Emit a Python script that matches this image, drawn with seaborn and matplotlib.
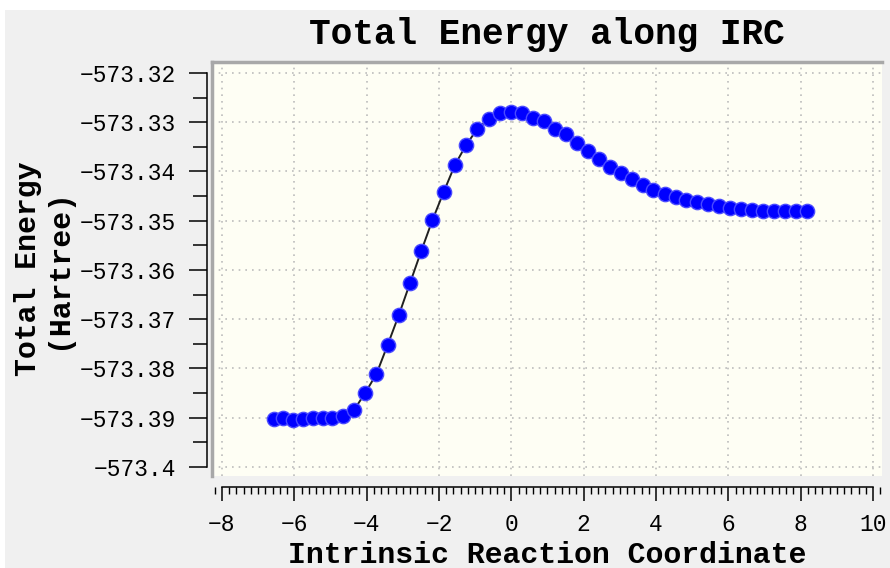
import pandas as pd
import numpy as np
import matplotlib
matplotlib.use("Agg")
import matplotlib.pyplot as plt
import seaborn as sns
from matplotlib.ticker import MultipleLocator
from matplotlib.patches import Rectangle

plt.rcParams['font.family'] = ['Liberation Mono', 'DejaVu Sans']

# IRC points
irc_coord = [-6.57, -6.30, -6.03, -5.76, -5.49, -5.22, -4.95, -4.66, -4.35, -4.04,
             -3.73, -3.42, -3.11, -2.80, -2.49, -2.18, -1.87, -1.56, -1.25, -0.94,
             -0.63, -0.31, 0.00, 0.30, 0.61, 0.91, 1.21, 1.51, 1.82, 2.12,
             2.42, 2.72, 3.03, 3.33, 3.63, 3.93, 4.24, 4.54, 4.84, 5.14,
             5.45, 5.75, 6.05, 6.35, 6.66, 6.96, 7.26, 7.56, 7.87, 8.17]
energy = [-573.39025, -573.39005, -573.39046, -573.39025, -573.39005, -573.39005,
          -573.39005, -573.38964, -573.38843, -573.38497, -573.38112, -573.37523,
          -573.36914, -573.36264, -573.35614, -573.34985, -573.34416, -573.33868,
          -573.33462, -573.33137, -573.32934, -573.32812, -573.32795, -573.32810,
          -573.32914, -573.32975, -573.33137, -573.33239, -573.33421, -573.33584,
          -573.33746, -573.33909, -573.34030, -573.34152, -573.34274, -573.34376,
          -573.34457, -573.34518, -573.34579, -573.34619, -573.34660, -573.34700,
          -573.34741, -573.34761, -573.34782, -573.34802, -573.34802, -573.34802,
          -573.34802, -573.34802]

xtick_vals = [-8, -6, -4, -2, 0, 2, 4, 6, 8, 10]
xtick_labels = ["−8", "−6", "−4", "−2", "0", "2", "4", "6", "8", "10"]
ytick_vals = [-573.32, -573.33, -573.34, -573.35, -573.36, -573.37, -573.38, -573.39, -573.40]
ytick_labels = ["−573.32", "−573.33", "−573.34", "−573.35", "−573.36",
                "−573.37", "−573.38", "−573.39", "−573.4"]

title = "Total Energy along IRC"
xlabel = "Intrinsic Reaction Coordinate"
ylabel = "Total Energy\n(Hartree)"

df = pd.DataFrame({"irc": irc_coord, "energy": energy})

W, H = 890, 568
fig = plt.figure(figsize=(W / 100, H / 100), dpi=100, facecolor="white")
fig.add_artist(Rectangle((5 / W, 0), 1, 1 - 10 / H, transform=fig.transFigure,
                         facecolor="#f0f0f0", edgecolor="none", zorder=-10))

rect = [212 / W, 1 - 476 / H, 670 / W, 414 / H]
ax = fig.add_axes(rect, facecolor="#fefef4")

sns.lineplot(data=df, x="irc", y="energy", ax=ax, color="#202020", linewidth=1.4,
             marker="o", markersize=10.3, markerfacecolor="#0000ff",
             markeredgecolor="#4a4aff", markeredgewidth=1.0, zorder=3)

ax.set_xlim(-8.276, 10.249)
ax.set_ylim(-573.40183, -573.31777)

# rulers
for s in ["top", "right"]:
    ax.spines[s].set_visible(False)
ax.spines["left"].set_position(("outward", 3.6))
ax.spines["left"].set_bounds(-573.40, -573.32)
ax.spines["bottom"].set_position(("outward", 7.6))
ax.spines["bottom"].set_bounds(-8, 10)
for s in ["left", "bottom"]:
    ax.spines[s].set_linewidth(1.1)
    ax.spines[s].set_color("black")

ax.set_xticks(xtick_vals)
ax.set_xticklabels(xtick_labels)
ax.set_yticks(ytick_vals)
ax.set_yticklabels(ytick_labels)
ax.xaxis.set_minor_locator(MultipleLocator(0.2))
ax.yaxis.set_minor_locator(MultipleLocator(0.005))

ax.tick_params(axis="y", which="major", direction="out", length=13, width=1.1,
               pad=9, labelsize=16.5, colors="black")
ax.tick_params(axis="y", which="minor", direction="out", length=10, width=1.1)
ax.tick_params(axis="x", which="major", direction="out", length=10, width=1.1,
               pad=9, labelsize=16.5, colors="black")
ax.tick_params(axis="x", which="minor", direction="out", length=5, width=1.0)

ax.grid(True, which="major", color="#bcbcbc", linestyle=(0, (1, 3)), linewidth=1.2)
ax.set_axisbelow(True)

ax.set_title(title, fontsize=26, fontweight="bold", pad=13)
ax.set_xlabel(xlabel, fontsize=21.5, fontweight="bold")
ax.xaxis.set_label_coords(0.5, (476 - 555) / 414)
ax.xaxis.label.set_va("center")
ax.set_ylabel(ylabel, fontsize=21.5, fontweight="bold", linespacing=1.1)
ax.yaxis.set_label_coords((43 - 212) / 670, 0.5)
ax.yaxis.label.set_va("center")

# sunken grey frame of the plot panel
frame = fig.add_axes(rect, facecolor="none")
frame.set_xticks([])
frame.set_yticks([])
for s in ["bottom", "right"]:
    frame.spines[s].set_visible(False)
for s in ["top", "left"]:
    frame.spines[s].set_color("#a8a8a8")
    frame.spines[s].set_linewidth(2.5)

fig.savefig("out.png", dpi=100, facecolor=fig.get_facecolor())
